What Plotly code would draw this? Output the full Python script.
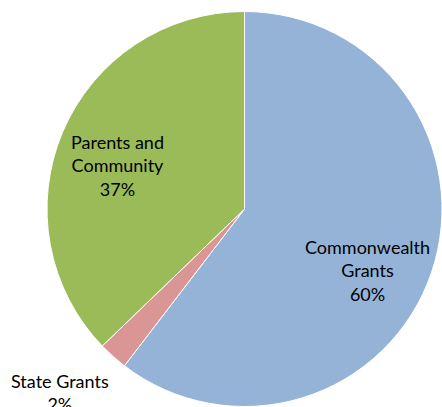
import plotly.graph_objects as go

labels = ["Commonwealth Grants", "State Grants", "Parents and Community"]
label_lines = ["Commonwealth<br>Grants", "State Grants", "Parents and<br>Community"]
values = [60.4, 2.4, 37.2]
colors = ["#95B3D7", "#D99694", "#9BBB59"]

W, H = 442, 407
total = sum(values)
pcts = [f"{round(v / total * 100)}%" for v in values]

fig = go.Figure(go.Pie(
    labels=labels, values=values, sort=False, direction="clockwise", rotation=0,
    marker=dict(colors=colors, line=dict(color="white", width=1)),
    textinfo="none", hoverinfo="label+percent", showlegend=False,
    domain=dict(x=[47 / W, 1.0], y=[0.0, (H - 11) / H]),
))

# label anchor positions (pixels: centre x, centre y of text block)
label_pos = [(367, 270), (60, 392), (117, 166)]
for txt, pct, (px, py) in zip(label_lines, pcts, label_pos):
    fig.add_annotation(
        x=px / W, y=1 - py / H, xref="paper", yref="paper",
        text=f"{txt}<br>{pct}", showarrow=False, xanchor="center", yanchor="middle",
        font=dict(family="Lato, Open Sans, sans-serif", size=18, color="#000000"),
    )

fig.update_layout(
    width=W, height=H, margin=dict(l=0, r=0, t=0, b=0),
    paper_bgcolor="white", plot_bgcolor="white",
)
fig.write_html(
    "out.html",
    config={"displayModeBar": False},
    post_script="document.body.style.margin='0';document.body.style.overflow='hidden';",
)
